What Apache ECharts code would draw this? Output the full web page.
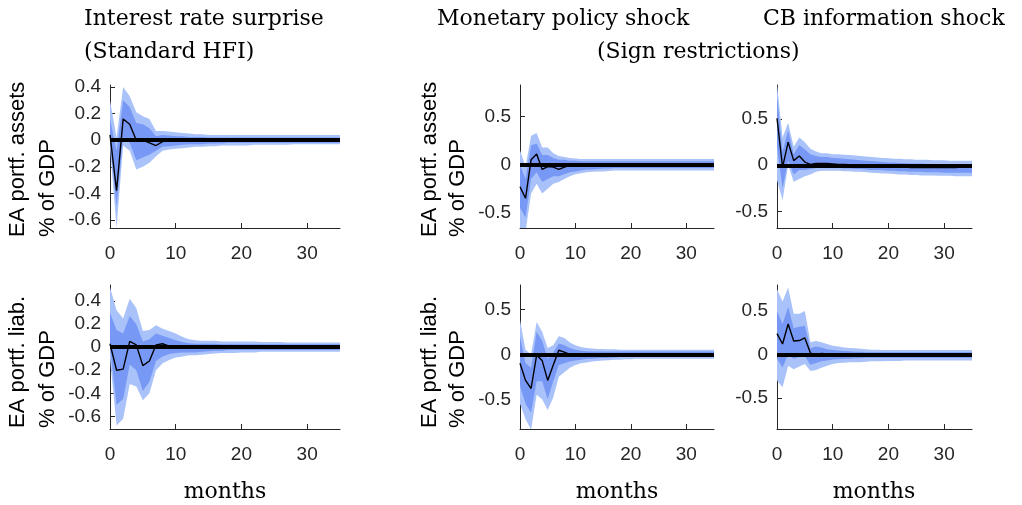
<!DOCTYPE html>
<html>
<head>
<meta charset="utf-8">
<script src="https://cdn.jsdelivr.net/npm/echarts@6/dist/echarts.min.js"></script>
<style>
  html, body { margin: 0; padding: 0; background: #fff; }
  #irf { width: 1022px; height: 505px; }
</style>
</head>
<body>
<div id="irf"></div>
<script>
  // horizon in months
  const months = [0,1,2,3,4,5,6,7,8,9,10,11,12,13,14,15,16,17,18,19,20,21,22,23,24,25,26,27,28,29,30,31,32,33,34,35];
  const xTicks = [0, 10, 20, 30];

  // top-left: interest rate surprise -> EA portfolio assets
  const p1Med   = [0.04,-0.38,0.16,0.12,0.00,0.00,-0.02,-0.04,-0.01,0.00,0.00,0.00,0.00,0.00,0.00,0.00,0.00,0.00,0.00,0.00,0.00,0.00,0.00,0.00,0.00,0.00,0.00,0.00,0.00,0.00,0.00,0.00,0.00,0.00,0.00,0.00];
  const p1OutHi = [0.30,0.02,0.40,0.33,0.21,0.18,0.16,0.07,0.07,0.065,0.06,0.055,0.05,0.045,0.045,0.04,0.04,0.04,0.04,0.04,0.04,0.04,0.04,0.04,0.04,0.04,0.04,0.04,0.04,0.04,0.04,0.04,0.04,0.04,0.04,0.04];
  const p1OutLo = [-0.05,-0.66,-0.04,-0.08,-0.22,-0.20,-0.17,-0.12,-0.08,-0.07,-0.065,-0.06,-0.055,-0.05,-0.05,-0.045,-0.045,-0.04,-0.04,-0.04,-0.04,-0.04,-0.035,-0.035,-0.035,-0.035,-0.035,-0.035,-0.03,-0.03,-0.03,-0.03,-0.03,-0.03,-0.03,-0.03];
  const p1InHi  = [0.16,-0.08,0.30,0.25,0.13,0.12,0.09,0.03,0.04,0.035,0.03,0.03,0.025,0.025,0.025,0.02,0.02,0.02,0.02,0.02,0.02,0.02,0.02,0.02,0.02,0.02,0.02,0.02,0.02,0.02,0.02,0.02,0.02,0.02,0.02,0.02];
  const p1InLo  = [-0.02,-0.50,0.02,-0.02,-0.15,-0.13,-0.11,-0.08,-0.05,-0.045,-0.04,-0.035,-0.03,-0.03,-0.03,-0.025,-0.025,-0.025,-0.02,-0.02,-0.02,-0.02,-0.02,-0.02,-0.02,-0.02,-0.02,-0.02,-0.02,-0.02,-0.02,-0.02,-0.02,-0.02,-0.02,-0.02];
  const p1Ticks = [-0.6, -0.4, -0.2, 0, 0.2, 0.4];

  // bottom-left: interest rate surprise -> EA portfolio liabilities
  const p2Med   = [0.03,-0.20,-0.19,0.05,0.02,-0.16,-0.12,0.02,0.03,0.01,0.00,0.00,0.00,-0.01,-0.01,-0.005,0.00,0.00,0.00,0.00,0.00,0.00,0.00,0.00,0.00,0.00,0.00,0.00,0.00,0.00,0.00,0.00,0.00,0.00,0.00,0.00];
  const p2OutHi = [0.52,0.32,0.25,0.42,0.34,0.14,0.15,0.19,0.16,0.14,0.12,0.09,0.07,0.06,0.055,0.055,0.055,0.05,0.05,0.05,0.05,0.05,0.05,0.045,0.045,0.045,0.045,0.04,0.04,0.04,0.04,0.04,0.04,0.04,0.04,0.04];
  const p2OutLo = [-0.10,-0.68,-0.62,-0.32,-0.34,-0.46,-0.40,-0.20,-0.14,-0.11,-0.09,-0.08,-0.07,-0.07,-0.065,-0.06,-0.055,-0.05,-0.05,-0.05,-0.045,-0.045,-0.045,-0.04,-0.04,-0.04,-0.04,-0.04,-0.04,-0.04,-0.04,-0.04,-0.04,-0.04,-0.04,-0.04];
  const p2InHi  = [0.30,0.15,0.12,0.27,0.20,0.05,0.07,0.12,0.10,0.08,0.06,0.045,0.035,0.03,0.03,0.03,0.03,0.025,0.025,0.025,0.025,0.025,0.025,0.025,0.025,0.025,0.025,0.025,0.025,0.025,0.025,0.025,0.025,0.025,0.025,0.025];
  const p2InLo  = [0.00,-0.50,-0.45,-0.15,-0.20,-0.38,-0.30,-0.12,-0.08,-0.06,-0.05,-0.045,-0.045,-0.045,-0.04,-0.035,-0.03,-0.03,-0.025,-0.025,-0.025,-0.025,-0.025,-0.025,-0.025,-0.025,-0.025,-0.025,-0.025,-0.025,-0.025,-0.025,-0.025,-0.025,-0.025,-0.025];
  const p2Ticks = [-0.6, -0.4, -0.2, 0, 0.2, 0.4];

  // top-middle: monetary policy shock -> assets
  const p3Med   = [-0.23,-0.35,0.05,0.11,-0.05,-0.02,-0.025,-0.05,-0.025,-0.01,-0.005,0.00,0.00,0.00,0.00,0.00,0.00,0.00,0.00,0.00,0.00,0.00,0.00,0.00,0.00,0.00,0.00,0.00,0.00,0.00,0.00,0.00,0.00,0.00,0.00,0.00];
  const p3OutHi = [0.15,-0.02,0.30,0.33,0.18,0.18,0.12,0.09,0.08,0.07,0.065,0.06,0.06,0.06,0.06,0.06,0.06,0.06,0.06,0.06,0.06,0.06,0.06,0.06,0.06,0.06,0.06,0.06,0.06,0.06,0.06,0.06,0.06,0.06,0.06,0.06];
  const p3OutLo = [-0.70,-0.70,-0.30,-0.20,-0.30,-0.25,-0.20,-0.18,-0.15,-0.12,-0.10,-0.09,-0.08,-0.075,-0.07,-0.07,-0.065,-0.06,-0.06,-0.06,-0.06,-0.06,-0.06,-0.06,-0.06,-0.06,-0.06,-0.06,-0.06,-0.06,-0.06,-0.06,-0.06,-0.06,-0.06,-0.06];
  const p3InHi  = [0.00,-0.15,0.20,0.22,0.10,0.10,0.07,0.05,0.05,0.04,0.04,0.035,0.035,0.035,0.035,0.035,0.035,0.035,0.035,0.035,0.035,0.035,0.035,0.035,0.035,0.035,0.035,0.035,0.035,0.035,0.035,0.035,0.035,0.035,0.035,0.035];
  const p3InLo  = [-0.45,-0.55,-0.15,-0.08,-0.18,-0.15,-0.12,-0.12,-0.10,-0.08,-0.07,-0.06,-0.05,-0.05,-0.045,-0.04,-0.04,-0.035,-0.035,-0.035,-0.035,-0.035,-0.035,-0.035,-0.035,-0.035,-0.035,-0.035,-0.035,-0.035,-0.035,-0.035,-0.035,-0.035,-0.035,-0.035];
  const p3Ticks = [-0.5, 0, 0.5];

  // bottom-middle: monetary policy shock -> liabilities
  const p4Med   = [-0.10,-0.29,-0.38,-0.01,-0.07,-0.29,-0.12,0.045,0.025,0.00,-0.005,-0.01,-0.01,-0.01,-0.01,-0.005,0.00,0.00,0.00,0.00,0.00,0.00,0.00,0.00,0.00,0.00,0.00,0.00,0.00,0.00,0.00,0.00,0.00,0.00,0.00,0.00];
  const p4OutHi = [0.38,0.05,0.00,0.36,0.25,0.07,0.10,0.20,0.18,0.13,0.10,0.08,0.07,0.065,0.06,0.06,0.055,0.055,0.05,0.05,0.05,0.05,0.05,0.05,0.05,0.05,0.05,0.05,0.05,0.05,0.05,0.05,0.05,0.05,0.05,0.05];
  const p4OutLo = [-0.55,-0.72,-0.84,-0.45,-0.50,-0.62,-0.48,-0.25,-0.20,-0.15,-0.12,-0.10,-0.09,-0.08,-0.075,-0.07,-0.065,-0.06,-0.06,-0.055,-0.055,-0.05,-0.05,-0.05,-0.05,-0.05,-0.05,-0.05,-0.05,-0.05,-0.05,-0.05,-0.05,-0.05,-0.05,-0.05];
  const p4InHi  = [0.20,-0.10,-0.15,0.25,0.15,-0.05,0.02,0.12,0.10,0.07,0.05,0.04,0.035,0.03,0.03,0.03,0.03,0.03,0.03,0.03,0.03,0.03,0.03,0.03,0.03,0.03,0.03,0.03,0.03,0.03,0.03,0.03,0.03,0.03,0.03,0.03];
  const p4InLo  = [-0.35,-0.55,-0.65,-0.30,-0.30,-0.50,-0.30,-0.12,-0.10,-0.08,-0.07,-0.06,-0.05,-0.05,-0.045,-0.04,-0.04,-0.035,-0.03,-0.03,-0.03,-0.03,-0.03,-0.03,-0.03,-0.03,-0.03,-0.03,-0.03,-0.03,-0.03,-0.03,-0.03,-0.03,-0.03,-0.03];
  const p4Ticks = [-0.5, 0, 0.5];

  // top-right: CB information shock -> assets
  const p5Med   = [0.51,-0.02,0.25,0.05,0.10,0.035,0.01,0.02,0.02,0.02,0.015,0.01,0.01,0.005,0.00,0.00,-0.005,-0.01,-0.01,-0.015,-0.015,-0.02,-0.02,-0.02,-0.025,-0.025,-0.025,-0.025,-0.025,-0.025,-0.025,-0.025,-0.025,-0.02,-0.02,-0.02];
  const p5OutHi = [0.88,0.30,0.46,0.20,0.30,0.25,0.18,0.15,0.13,0.13,0.12,0.12,0.115,0.11,0.105,0.10,0.095,0.09,0.085,0.08,0.075,0.07,0.07,0.065,0.065,0.06,0.06,0.06,0.055,0.055,0.055,0.05,0.05,0.05,0.05,0.05];
  const p5OutLo = [-0.16,-0.38,0.00,-0.18,-0.15,-0.12,-0.10,-0.07,-0.06,-0.06,-0.06,-0.06,-0.065,-0.065,-0.07,-0.07,-0.075,-0.08,-0.085,-0.09,-0.09,-0.095,-0.10,-0.10,-0.105,-0.105,-0.11,-0.11,-0.11,-0.115,-0.115,-0.115,-0.12,-0.12,-0.12,-0.12];
  const p5InHi  = [0.75,0.15,0.38,0.12,0.22,0.17,0.12,0.10,0.09,0.09,0.08,0.075,0.07,0.065,0.06,0.055,0.05,0.045,0.04,0.035,0.03,0.03,0.025,0.025,0.02,0.02,0.02,0.015,0.015,0.015,0.01,0.01,0.01,0.01,0.01,0.01];
  const p5InLo  = [0.20,-0.25,0.05,-0.10,-0.05,-0.05,-0.04,-0.03,-0.03,-0.03,-0.03,-0.03,-0.035,-0.035,-0.04,-0.04,-0.045,-0.05,-0.05,-0.055,-0.06,-0.06,-0.065,-0.065,-0.07,-0.07,-0.07,-0.075,-0.075,-0.075,-0.08,-0.08,-0.08,-0.08,-0.08,-0.08];
  const p5Ticks = [-0.5, 0, 0.5];

  // bottom-right: CB information shock -> liabilities
  const p6Med   = [0.24,0.12,0.35,0.155,0.16,0.19,0.015,0.00,0.01,0.005,0.00,0.00,0.00,0.00,0.00,0.00,0.00,0.00,0.00,0.00,0.00,0.00,0.00,0.00,0.00,0.00,0.00,0.00,0.00,0.00,0.00,0.00,0.00,0.00,0.00,0.00];
  const p6OutHi = [0.75,0.61,0.77,0.47,0.47,0.50,0.14,0.155,0.14,0.12,0.10,0.09,0.08,0.075,0.07,0.065,0.06,0.055,0.055,0.05,0.05,0.05,0.05,0.05,0.05,0.05,0.05,0.05,0.05,0.05,0.05,0.05,0.05,0.05,0.05,0.05];
  const p6OutLo = [-0.30,-0.38,-0.13,-0.17,-0.14,-0.11,-0.19,-0.18,-0.155,-0.13,-0.11,-0.10,-0.095,-0.09,-0.09,-0.09,-0.085,-0.08,-0.08,-0.08,-0.075,-0.075,-0.075,-0.07,-0.07,-0.07,-0.07,-0.07,-0.07,-0.07,-0.07,-0.07,-0.07,-0.07,-0.07,-0.07];
  const p6InHi  = [0.50,0.35,0.55,0.30,0.32,0.33,0.07,0.09,0.08,0.06,0.05,0.045,0.04,0.035,0.03,0.03,0.025,0.025,0.025,0.025,0.025,0.025,0.025,0.025,0.025,0.025,0.025,0.025,0.025,0.025,0.025,0.025,0.025,0.025,0.025,0.025];
  const p6InLo  = [-0.05,-0.15,0.00,-0.05,-0.03,-0.02,-0.12,-0.10,-0.08,-0.07,-0.06,-0.055,-0.05,-0.05,-0.045,-0.045,-0.04,-0.04,-0.04,-0.04,-0.04,-0.04,-0.04,-0.04,-0.04,-0.04,-0.04,-0.04,-0.04,-0.04,-0.04,-0.04,-0.04,-0.04,-0.04,-0.04];
  const p6Ticks = [-0.5, 0, 0.5];

  // panel layout (pixels) and y limits
  const panels = [
    {left: 110, top: 85,  width: 230, height: 143, ymin: -0.66, ymax: 0.415, ticks: p1Ticks, med: p1Med, oLo: p1OutLo, oHi: p1OutHi, iLo: p1InLo, iHi: p1InHi},
    {left: 110, top: 285, width: 230, height: 144, ymin: -0.71, ymax: 0.54,  ticks: p2Ticks, med: p2Med, oLo: p2OutLo, oHi: p2OutHi, iLo: p2InLo, iHi: p2InHi},
    {left: 520, top: 85,  width: 194, height: 143, ymin: -0.66, ymax: 0.83,  ticks: p3Ticks, med: p3Med, oLo: p3OutLo, oHi: p3OutHi, iLo: p3InLo, iHi: p3InHi},
    {left: 520, top: 285, width: 194, height: 144, ymin: -0.83, ymax: 0.77,  ticks: p4Ticks, med: p4Med, oLo: p4OutLo, oHi: p4OutHi, iLo: p4InLo, iHi: p4InHi},
    {left: 777, top: 85,  width: 195, height: 143, ymin: -0.68, ymax: 0.87,  ticks: p5Ticks, med: p5Med, oLo: p5OutLo, oHi: p5OutHi, iLo: p5InLo, iHi: p5InHi},
    {left: 777, top: 285, width: 195, height: 144, ymin: -0.86, ymax: 0.80,  ticks: p6Ticks, med: p6Med, oLo: p6OutLo, oHi: p6OutHi, iLo: p6InLo, iHi: p6InHi}
  ];

  const axisColor = '#262626';
  const outerColor = '#a9c2fa';
  const innerColor = '#7898f5';
  const sans = 'Liberation Sans, Arial, sans-serif';
  const serif = 'DejaVu Serif, serif';

  const grid = [], xAxis = [], yAxis = [], series = [];

  // credible band as one polygon, positioned through the axis scales
  function band(i, lo, hi, color) {
    series.push({
      type: 'custom', xAxisIndex: i, yAxisIndex: i, silent: true, clip: true,
      data: [[0, 0]],
      renderItem: function (params, api) {
        const pts = [];
        for (let k = 0; k < months.length; k++) pts.push(api.coord([months[k], hi[k]]));
        for (let k = months.length - 1; k >= 0; k--) pts.push(api.coord([months[k], lo[k]]));
        return {type: 'polygon', shape: {points: pts}, style: {fill: color, stroke: null}};
      }
    });
  }

  panels.forEach((p, i) => {
    grid.push({left: p.left, top: p.top, width: p.width, height: p.height});
    xAxis.push({
      type: 'value', gridIndex: i, min: 0, max: 35,
      axisLine: {show: true, onZero: false, lineStyle: {color: axisColor, width: 1}},
      axisTick: {show: true, inside: true, length: 5, customValues: xTicks, lineStyle: {color: axisColor}},
      axisLabel: {customValues: xTicks, fontSize: 19, color: axisColor, fontFamily: sans, margin: 16},
      splitLine: {show: false}
    });
    yAxis.push({
      type: 'value', gridIndex: i, min: p.ymin, max: p.ymax,
      axisLine: {show: true, onZero: false, lineStyle: {color: axisColor, width: 1}},
      axisTick: {show: true, inside: true, length: 5, customValues: p.ticks, lineStyle: {color: axisColor}},
      axisLabel: {customValues: p.ticks, fontSize: 19, color: axisColor, fontFamily: sans, margin: 9},
      splitLine: {show: false}
    });
    band(i, p.oLo, p.oHi, outerColor);
    band(i, p.iLo, p.iHi, innerColor);
    series.push({
      type: 'line', xAxisIndex: i, yAxisIndex: i, symbol: 'none', silent: true,
      lineStyle: {color: '#000', width: 1.4},
      data: p.med.map((v, k) => [months[k], v]),
      markLine: {
        silent: true, symbol: ['none', 'none'], label: {show: false},
        lineStyle: {color: '#000', width: 4, type: 'solid'},
        data: [{yAxis: 0}]
      }
    });
  });

  function txt(x, y, text, font, size, align, rot) {
    return {
      type: 'text', x: x, y: y, rotation: rot || 0, silent: true,
      style: {text: text, font: size + 'px ' + font, fill: '#000', align: align || 'left', verticalAlign: 'middle'}
    };
  }

  const graphic = [
    txt(84, 19, 'Interest rate surprise', serif, 22),
    txt(84, 52, '(Standard HFI)', serif, 22),
    txt(437, 19, 'Monetary policy shock', serif, 22),
    txt(763, 19, 'CB information shock', serif, 22),
    txt(597, 52, '(Sign restrictions)', serif, 22),
    txt(225, 492, 'months', serif, 22, 'center'),
    txt(617, 492, 'months', serif, 22, 'center'),
    txt(874, 492, 'months', serif, 22, 'center'),
    txt(18, 237, 'EA portf. assets', sans, 22, 'left', Math.PI / 2),
    txt(48, 237, '% of GDP', sans, 22, 'left', Math.PI / 2),
    txt(18, 428, 'EA portf. liab.', sans, 22, 'left', Math.PI / 2),
    txt(48, 428, '% of GDP', sans, 22, 'left', Math.PI / 2),
    txt(430, 237, 'EA portf. assets', sans, 22, 'left', Math.PI / 2),
    txt(458, 237, '% of GDP', sans, 22, 'left', Math.PI / 2),
    txt(430, 428, 'EA portf. liab.', sans, 22, 'left', Math.PI / 2),
    txt(458, 428, '% of GDP', sans, 22, 'left', Math.PI / 2)
  ];

  const chart = echarts.init(document.getElementById('irf'), null, {renderer: 'canvas'});
  chart.setOption({
    animation: false,
    backgroundColor: '#fff',
    grid: grid,
    xAxis: xAxis,
    yAxis: yAxis,
    series: series,
    graphic: graphic
  });
  window.addEventListener('resize', function () {
    chart.resize();
  });
</script>
</body>
</html>
